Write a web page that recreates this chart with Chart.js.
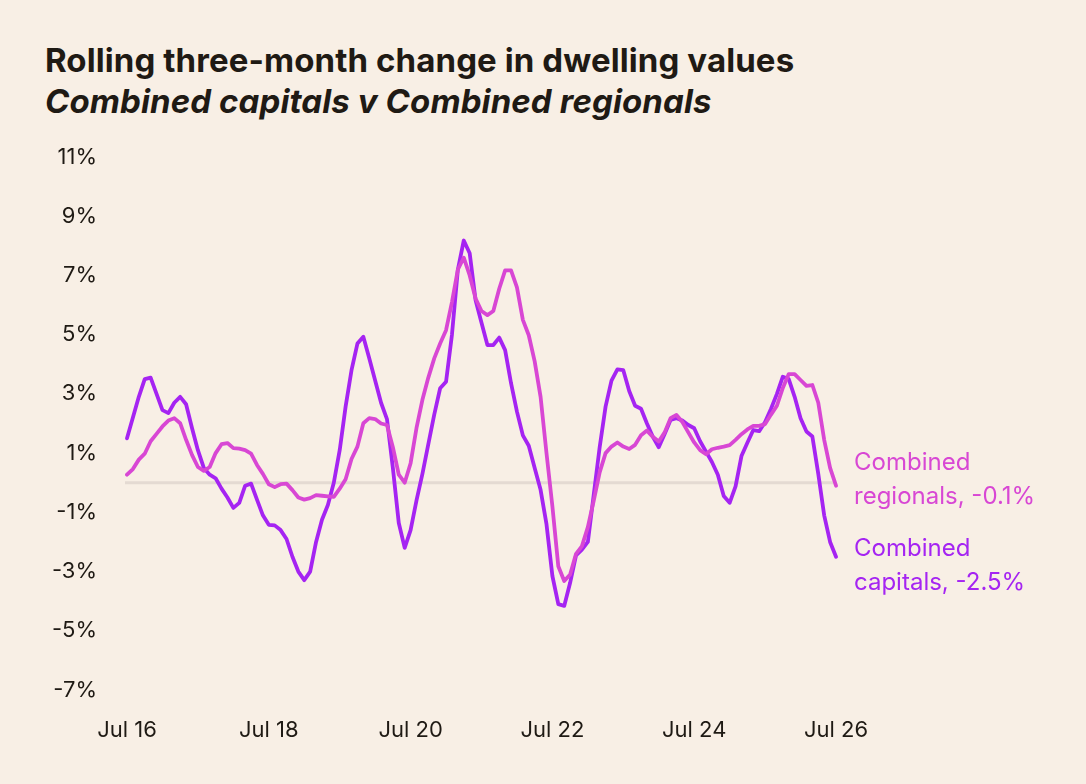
<!DOCTYPE html>
<html>
<head>
<meta charset="utf-8">
<script src="https://cdn.jsdelivr.net/npm/chart.js@4"></script>
<style>
  html, body { margin: 0; padding: 0; background: #f8efe5; }
  #wrap { position: relative; width: 1086px; height: 784px; overflow: hidden; }
  .titulo { position: absolute; left: 45px; font-family: Inter, "Noto Sans", sans-serif; font-weight: 700; font-size: 33px; line-height: 40px; color: #1f1a14; letter-spacing: 0.1px; white-space: nowrap; }
  #t1 { top: 40px; }
  #t2 { top: 81px; font-style: italic; }
  canvas { position: absolute; left: 0; top: 0; }
</style>
</head>
<body>
<div id="wrap">
  <div class="titulo" id="t1">Rolling three-month change in dwelling values</div>
  <div class="titulo" id="t2">Combined capitals v Combined regionals</div>
  <canvas id="grafico" width="1086" height="784"></canvas>
</div>
<script>
// meses Jul 16 .. Jul 26
const mesesNomes = ['Jan','Feb','Mar','Apr','May','Jun','Jul','Aug','Sep','Oct','Nov','Dec'];
const meses = [];
for (let i = 0; i <= 120; i++) {
    const m = (6 + i) % 12;
    const a = 16 + Math.floor((6 + i) / 12);
    meses.push(`${mesesNomes[m]} ${a}`);
}
const rotulosX = ['Jul 16', 'Jul 18', 'Jul 20', 'Jul 22', 'Jul 24', 'Jul 26'];

// valores (%)
const capitais = [
    1.5, 2.2, 2.9, 3.5, 3.55, 3.0, 2.45, 2.35, 2.7, 2.9,
    2.65, 1.85, 1.1, 0.5, 0.27, 0.15, -0.2, -0.5, -0.85, -0.68,
    -0.1, -0.03, -0.57, -1.1, -1.42, -1.44, -1.6, -1.9, -2.5, -3.0,
    -3.29, -3.0, -2.0, -1.25, -0.75, 0.0, 1.1, 2.57, 3.8, 4.7,
    4.93, 4.2, 3.45, 2.7, 2.15, 0.5, -1.36, -2.2, -1.6, -0.6,
    0.3, 1.3, 2.3, 3.19, 3.41, 5.0, 7.2, 8.18, 7.75, 6.16,
    5.4, 4.65, 4.65, 4.9, 4.48, 3.36, 2.4, 1.6, 1.25, 0.5,
    -0.24, -1.4, -3.15, -4.1, -4.16, -3.38, -2.45, -2.26, -2.0, -0.4,
    1.2, 2.57, 3.45, 3.83, 3.8, 3.1, 2.6, 2.5, 2.0, 1.55,
    1.2, 1.65, 2.12, 2.18, 2.1, 1.95, 1.84, 1.4, 1.05, 0.7,
    0.27, -0.45, -0.68, -0.12, 0.9, 1.35, 1.78, 1.74, 2.05, 2.5,
    3.0, 3.58, 3.5, 2.9, 2.18, 1.73, 1.56, 0.3, -1.1, -2.0,
    -2.5
];
const regionais = [
    0.27, 0.46, 0.78, 0.98, 1.4, 1.65, 1.9, 2.1, 2.18, 2.01,
    1.45, 0.94, 0.53, 0.4, 0.53, 1.0, 1.3, 1.34, 1.17, 1.15,
    1.1, 0.98, 0.6, 0.3, -0.05, -0.15, -0.05, -0.03, -0.25, -0.5,
    -0.57, -0.52, -0.42, -0.44, -0.46, -0.48, -0.2, 0.12, 0.8, 1.22,
    2.01, 2.18, 2.15, 2.0, 1.95, 1.2, 0.27, 0.0, 0.66, 1.85,
    2.8, 3.55, 4.2, 4.7, 5.15, 6.1, 7.2, 7.6, 7.0, 6.22,
    5.8, 5.66, 5.8, 6.55, 7.17, 7.17, 6.6, 5.5, 4.98, 4.1,
    2.9, 1.0, -0.8, -2.82, -3.32, -3.1, -2.4, -2.14, -1.5, -0.6,
    0.35, 1.0, 1.22, 1.36, 1.22, 1.14, 1.28, 1.6, 1.76, 1.55,
    1.39, 1.7, 2.18, 2.29, 2.05, 1.7, 1.36, 1.1, 0.96, 1.13,
    1.18, 1.22, 1.27, 1.45, 1.64, 1.8, 1.92, 1.92, 1.98, 2.3,
    2.6, 3.2, 3.67, 3.67, 3.47, 3.27, 3.3, 2.7, 1.45, 0.5,
    -0.1
];

const corCapitais = '#a524f2';
const corRegionais = '#d847d4';
const corTexto = '#1f1a14';
const fonte = 'Inter, "Noto Sans", sans-serif';

// linha do zero + rótulos no fim das séries
const pluginExtras = {
    id: 'extras',
    beforeDatasetsDraw(chart) {
        const { ctx, chartArea, scales } = chart;
        const y0 = scales.y.getPixelForValue(0);
        ctx.save();
        ctx.strokeStyle = '#e4dad2';
        ctx.lineWidth = 3;
        ctx.beginPath();
        ctx.moveTo(chartArea.left - 2, y0);
        ctx.lineTo(chartArea.right, y0);
        ctx.stroke();
        ctx.restore();
    },
    afterDraw(chart) {
        const { ctx, chartArea } = chart;
        const x = chartArea.right + 18;
        ctx.save();
        ctx.font = `400 24px ${fonte}`;
        ctx.textBaseline = 'middle';
        ctx.fillStyle = corRegionais;
        ctx.fillText('Combined', x, 463);
        ctx.fillText('regionals, -0.1%', x, 497);
        ctx.fillStyle = corCapitais;
        ctx.fillText('Combined', x, 549);
        ctx.fillText('capitals, -2.5%', x, 583);
        ctx.restore();
    }
};

new Chart(document.getElementById('grafico'), {
    type: 'line',
    data: {
        labels: meses,
        datasets: [
            { label: 'Combined regionals', data: regionais, borderColor: corRegionais, order: 0 },
            { label: 'Combined capitals', data: capitais, borderColor: corCapitais, order: 1 }
        ]
    },
    options: {
        responsive: false,
        animation: false,
        devicePixelRatio: 1,
        layout: { padding: { top: 157, right: 250, bottom: 0, left: 0 } },
        elements: {
            point: { radius: 0 },
            line: { borderWidth: 3.8, tension: 0, borderJoinStyle: 'round', borderCapStyle: 'round' }
        },
        plugins: { legend: { display: false }, tooltip: { enabled: false } },
        scales: {
            x: {
                offset: false,
                grid: { display: false, drawTicks: false },
                border: { display: false },
                afterFit: (s) => { s.height = 94; },
                ticks: {
                    autoSkip: false,
                    maxRotation: 0,
                    padding: 27,
                    color: corTexto,
                    font: { family: fonte, size: 22 },
                    callback: (v, i) => rotulosX.includes(meses[i]) ? meses[i] : ''
                }
            },
            y: {
                min: -7,
                max: 11,
                grid: { display: false, drawTicks: false },
                border: { display: false },
                afterFit: (s) => { s.width = 127; },
                ticks: {
                    stepSize: 2,
                    padding: 30,
                    color: corTexto,
                    font: { family: fonte, size: 22 },
                    callback: (v) => `${v}%`
                }
            }
        }
    },
    plugins: [pluginExtras]
});
</script>
</body>
</html>
